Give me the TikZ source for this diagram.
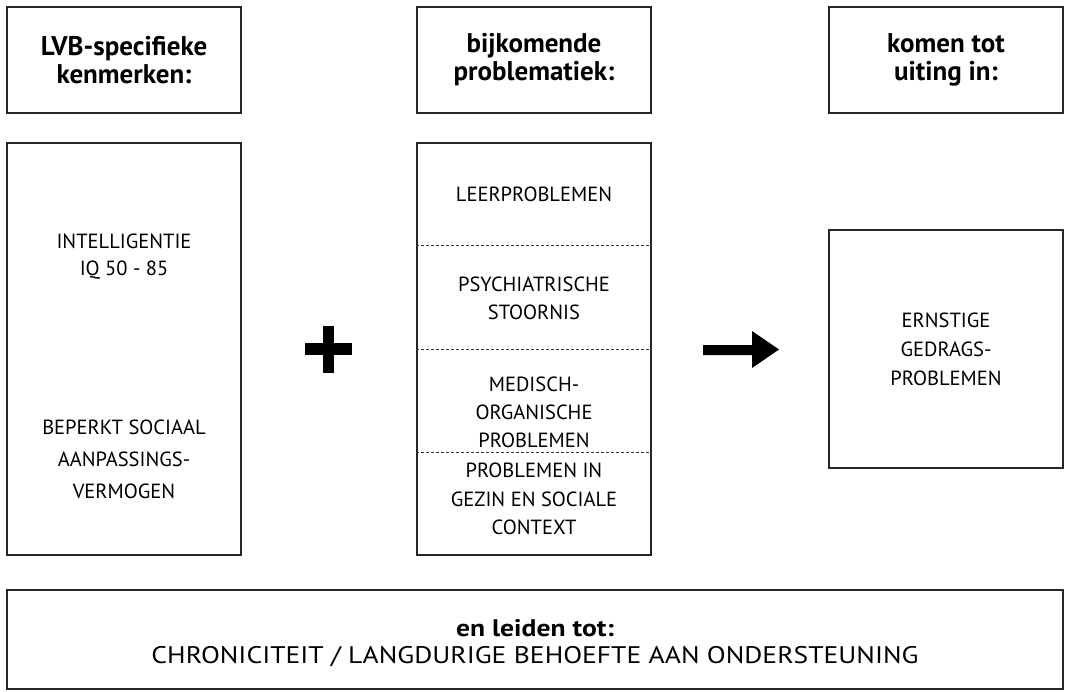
\documentclass[tikz,border=0pt]{standalone}
\usepackage{fontspec}
\setmainfont{PT Sans}
\usetikzlibrary{calc}
\begin{document}
\begin{tikzpicture}[x=1pt,y=-1pt,
  box/.style={draw=black!85,line width=1.1pt,inner sep=0pt,align=center},
  txt/.style={align=center,font=\fontsize{20.5}{29}\selectfont,inner sep=0pt},
  hd/.style={font=\fontsize{27}{28}\selectfont\bfseries},
  divider/.style={draw=black!80,line width=0.9pt,dash pattern=on 3pt off 2pt},
  sym/.style={fill=black}]
\useasboundingbox (0,0) rectangle (1065,691);
% headers
\node[box,hd,minimum width=234pt,minimum height=106pt] (h1) at (124,60) {LVB-specifieke\\kenmerken:};
\node[box,hd,minimum width=234pt,minimum height=106pt] (h2) at (534,60) {bijkomende\\problematiek:};
\node[box,hd,minimum width=234pt,minimum height=106pt] (h3) at (946,60) {komen tot\\uiting in:};
% left box
\node[box,minimum width=234pt,minimum height=412pt] (lb) at (124,349) {};
\node[txt,font=\fontsize{20.5}{27}\selectfont] (iq) at (124,257) {INTELLIGENTIE\\IQ 50 - 85};
\node[txt,font=\fontsize{20.5}{32}\selectfont] (soc) at (124,459) {BEPERKT SOCIAAL\\AANPASSINGS-\\VERMOGEN};
% middle box
\node[box,minimum width=234pt,minimum height=412pt] (mb) at (534,349) {};
\draw[divider] ($(mb.north west)!0.25!(mb.south west)$) -- ($(mb.north east)!0.25!(mb.south east)$);
\draw[divider] ($(mb.north west)!0.5!(mb.south west)$) -- ($(mb.north east)!0.5!(mb.south east)$);
\draw[divider] ($(mb.north west)!0.75!(mb.south west)$) -- ($(mb.north east)!0.75!(mb.south east)$);
\node[txt] (m1) at (534,194) {LEERPROBLEMEN};
\node[txt,font=\fontsize{20.5}{28}\selectfont] (m2) at (534,298) {PSYCHIATRISCHE\\STOORNIS};
\node[txt,font=\fontsize{20.5}{28}\selectfont] (m3) at (534,412) {MEDISCH-\\ORGANISCHE\\PROBLEMEN};
\node[txt,font=\fontsize{20.5}{28.5}\selectfont] (m4) at (534,499) {PROBLEMEN IN\\GEZIN EN SOCIALE\\CONTEXT};
% right box
\node[box,txt,minimum width=234pt,minimum height=238pt] (rb) at (946,349) {ERNSTIGE\\GEDRAGS-\\PROBLEMEN};
% plus
\fill[sym] (305,343) rectangle (352,355);
\fill[sym] (323,326) rectangle (334,373);
% arrow
\fill[sym] (703,345) -- (752,345) -- (752,331) -- (779,349.5) -- (752,368) -- (752,355) -- (703,355) -- cycle;
% bottom
\node[box,minimum width=1056pt,minimum height=99pt] (bb) at (535,639.5) {};
\node[txt,font=\fontsize{24}{27}\selectfont] (bt) at (535,643) {\scalebox{1.15}[1]{\textbf{en leiden tot:}}\\\scalebox{1.15}[1]{CHRONICITEIT / LANGDURIGE BEHOEFTE AAN ONDERSTEUNING}};
\end{tikzpicture}
\end{document}
